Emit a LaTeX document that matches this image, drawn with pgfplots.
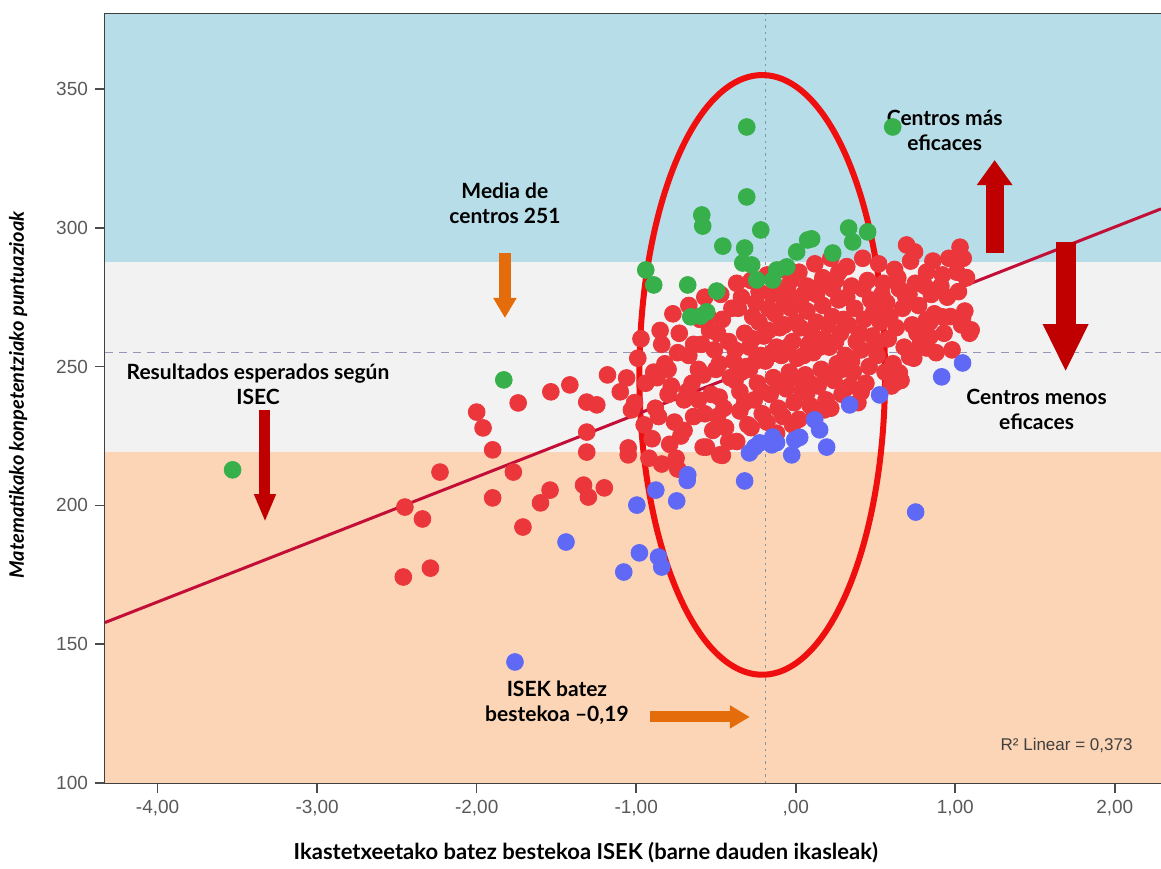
\documentclass[border=0pt]{standalone}
\usepackage{pgfplots}
\pgfplotsset{compat=1.18}
\usetikzlibrary{arrows.meta}
\usepackage{fontspec}
\setmainfont{Lato}
\newfontfamily\tickfont{Liberation Sans}
\definecolor{bandblue}{RGB}{183,221,232}
\definecolor{bandgray}{RGB}{242,242,242}
\definecolor{bandorange}{RGB}{251,213,181}
\definecolor{ptred}{RGB}{235,55,60}
\definecolor{ptgreen}{RGB}{55,175,75}
\definecolor{ptblue}{RGB}{95,105,245}
\definecolor{regline}{RGB}{195,15,55}
\definecolor{ellred}{RGB}{240,15,15}
\definecolor{arrorange}{RGB}{228,108,10}
\definecolor{arrred}{RGB}{192,0,0}
\begin{document}
\begin{tikzpicture}
\begin{axis}[
  scale only axis, width=528pt, height=384.5pt,
  xmin=-4.33, xmax=2.29, ymin=100, ymax=377,
  clip=false,
  axis line style={draw=black!75, line width=0.8pt},
  xtick={-4,-3,-2,-1,0,1,2},
  xticklabels={{-4,00},{-3,00},{-2,00},{-1,00},{,00},{1,00},{2,00}},
  ytick={100,150,200,250,300,350},
  yticklabels={100,150,200,250,300,350},
  tick pos=left, tick align=outside, major tick length=5pt,
  tick style={black!70, line width=0.8pt},
  ticklabel style={font=\tickfont\fontsize{9.5}{11}\selectfont, text=black!65},
]
% bands
\fill[bandblue] (axis cs:-4.33,287.7) rectangle (axis cs:2.29,377);
\fill[bandgray] (axis cs:-4.33,219.2) rectangle (axis cs:2.29,287.7);
\fill[bandorange] (axis cs:-4.33,100) rectangle (axis cs:2.29,219.2);
% reference lines
\draw[color={rgb,255:red,150;green,150;blue,185}, line width=0.7pt, dash pattern=on 4pt off 3pt] (axis cs:-4.33,255) -- (axis cs:2.29,255);
\draw[color={rgb,255:red,130;green,150;blue,170}, line width=0.8pt, dash pattern=on 1.2pt off 2pt] (axis cs:-0.19,100) -- (axis cs:-0.19,377);
% ellipse
\draw[ellred, line width=3pt] (axis cs:-0.21,247) ellipse [x radius=0.77, y radius=108];
% red points
\addplot[only marks, mark=*, mark size=4.2pt, color=ptred, mark options={fill=ptred, draw=ptred}] coordinates {
(-2.0,233.6)(-1.96,227.9)(-1.90,220)(-2.23,212)(-2.45,199.4)(-2.34,195.1)(-2.29,177.4)(-2.46,174.2)
(-1.90,202.7)(-1.77,212)(-1.74,236.9)(-1.71,192.2)(-1.535,240.9)(-1.416,243.4)(-1.54,205.5)(-1.60,200.9)
(-1.31,237.2)(-1.247,236.2)(-1.31,226.4)(-1.31,219.2)(-1.33,207.3)(-1.30,203)(-1.20,206.3)(-1.18,247)
(-1.10,240.9)(-1.06,245.9)(-1.05,220.7)(-1.05,218.2)(-1.03,234.4)(-0.84,214.9)(-0.74,213.1)(-0.476,218.2)(-0.92,217)
(-0.99,253)(-0.94,244)(-0.95,229)(-1.01,237)(-0.90,224)(-0.97,260)(-0.89,248)
(-0.85,263)(-0.82,251)(-0.86,232)(-0.80,240)(-0.88,235)(-0.79,222)(-0.84,258)(-0.87,246)
(-0.77,269)(-0.74,255)(-0.72,225)(-0.78,243)(-0.70,238)(-0.80,249)(-0.73,262)(-0.76,230)(-0.75,217)
(-0.67,272)(-0.64,258)(-0.61,249)(-0.68,241)(-0.64,232)(-0.70,227)(-0.60,267)(-0.65,244)(-0.67,254)(-0.58,221)(-0.61,238)
(-0.57,275)(-0.54,263)(-0.51,256)(-0.58,247)(-0.53,240)(-0.57,233)(-0.52,227)(-0.55,268)(-0.50,249)(-0.59,258)(-0.49,232)(-0.56,221)
(-0.47,276)(-0.46,267)(-0.42,259)(-0.48,251)(-0.41,246)(-0.48,239)(-0.45,235)(-0.44,228)(-0.40,271)(-0.39,252)(-0.49,262)(-0.42,223)(-0.46,218)
(-0.37,280)(-0.36,271)(-0.32,262)(-0.38,256)(-0.31,250)(-0.38,245)(-0.35,241)(-0.35,234)(-0.30,229)(-0.37,223)(-0.34,275)(-0.29,257)(-0.34,248)(-0.32,237)
(-0.28,281)(-0.25,273)(-0.23,266)(-0.27,260)(-0.22,254)(-0.29,249)(-0.24,244)(-0.26,238)(-0.21,233)(-0.28,228)(-0.23,277)(-0.2,261)(-0.25,252)(-0.21,241)(-0.27,268)
(-0.18,283)(-0.15,276)(-0.13,269)(-0.17,263)(-0.12,257)(-0.19,252)(-0.14,246)(-0.16,240)(-0.11,235)(-0.18,230)(-0.13,279)(-0.1,264)(-0.15,255)(-0.11,244)(-0.17,271)(-0.12,226)
(-0.08,285)(-0.05,277)(-0.03,271)(-0.07,265)(-0.02,259)(-0.09,254)(-0.04,248)(-0.06,242)(-0.01,237)(-0.08,232)(-0.03,281)(0,266)(-0.05,257)(-0.01,246)(-0.07,273)(-0.02,229)
(0.02,284)(0.05,276)(0.07,270)(0.03,264)(0.08,258)(0.01,253)(0.06,247)(0.04,241)(0.09,236)(0.02,231)(0.07,279)(0.1,262)(0.05,254)(0.09,244)(0.03,273)
(0.12,287)(0.15,279)(0.17,272)(0.13,266)(0.18,260)(0.11,255)(0.16,249)(0.14,243)(0.19,238)(0.12,233)(0.17,282)(0.2,265)(0.15,257)(0.19,247)(0.13,276)
(0.22,289)(0.25,281)(0.27,274)(0.23,268)(0.28,262)(0.21,257)(0.26,251)(0.24,245)(0.29,240)(0.22,235)(0.27,284)(0.3,267)(0.25,259)(0.29,249)(0.23,278)
(0.32,286)(0.35,279)(0.37,271)(0.33,265)(0.38,259)(0.31,254)(0.36,248)(0.34,243)(0.39,237)(0.32,275)(0.4,262)(0.35,252)
(0.42,289)(0.45,281)(0.47,274)(0.43,267)(0.48,261)(0.41,256)(0.46,250)(0.44,244)(0.49,270)(0.42,278)(0.5,258)
(0.52,287)(0.55,280)(0.57,273)(0.53,266)(0.58,260)(0.51,254)(0.56,248)(0.54,276)(0.59,268)(0.6,243)
(0.62,285)(0.65,278)(0.67,271)(0.63,264)(0.68,257)(0.61,251)(0.66,245)(0.69,275)(0.64,282)
(0.72,288)(0.75,280)(0.77,272)(0.73,265)(0.78,258)(0.71,276)(0.76,262)(0.74,253)
(0.82,284)(0.85,276)(0.87,269)(0.83,261)(0.88,255)(0.81,279)(0.86,288)(0.84,266)
(0.92,283)(0.95,275)(0.97,268)(0.93,262)(0.98,256)(0.91,279)(0.96,289)
(1.03,293)(1.05,289)(1.07,282)(1.02,277)(1.06,270)(1.04,265)(1.09,262)(1.01,284)
(0.695,293.8)(0.745,291.3)(1.07,282)(1.046,267.5)(1.10,263.2)(0.92,267.9)(0.82,266.8)(0.84,260.7)
(0.82,256.7)(0.65,247.7)(0.62,244)(0.41,240.8)(0.07,240.5)(0.18,234.4)(0.714,253.5)
};
% green points
\addplot[only marks, mark=*, mark size=4.2pt, color=ptgreen, mark options={fill=ptgreen, draw=ptgreen}] coordinates {
(-0.307,336.3)(0.608,336.3)(-0.307,311.1)(-0.589,304.6)(-0.583,300.6)(-0.219,299.2)(-0.457,293.4)
(-0.32,292.7)(0.1,296)(0.332,299.9)(0.357,294.9)(0.451,298.5)(0.006,291.3)(0.232,290.9)(-0.94,284.8)
(-0.89,279.4)(-0.677,279.4)(-0.495,277.2)(-0.658,267.9)(-0.558,269.7)(-0.595,268.2)(-0.332,287.3)
(-0.276,286.6)(-0.244,281.2)(-0.144,281.2)(-0.119,284.8)(-0.056,285.9)(0.075,295.6)(-1.83,245.2)(-3.53,212.8)
};
% blue points
\addplot[only marks, mark=*, mark size=4.2pt, color=ptblue, mark options={fill=ptblue, draw=ptblue}] coordinates {
(-1.76,143.6)(-1.44,186.8)(-1.078,176)(-0.98,182.9)(-0.86,181.4)(-0.84,177.8)(-0.996,200.1)(-0.877,205.5)
(-0.746,201.6)(-0.677,211)(-0.68,209)(-0.32,208.8)(-0.29,218.9)(-0.257,221)(-0.226,222.5)(-0.15,221.8)
(-0.144,224.6)(-0.12,222.6)(-0.006,223.6)(-0.025,218.2)(0.025,224.5)(1.046,251.3)(0.915,246.3)(0.526,239.8)
(0.338,236.2)(0.119,230.8)(0.15,227.2)(0.194,221)(0.752,197.6)
};
% regression line
\addplot[regline, line width=1.5pt] coordinates {(-4.33,157.8)(2.29,306.8)};
% arrows
\draw[arrorange, line width=6pt, -{Triangle[width=11pt, length=10pt]}] (axis cs:-1.823,290.9) -- (axis cs:-1.823,267.5);
\draw[arrorange, line width=5.5pt, -{Triangle[width=11pt, length=10pt]}] (axis cs:-0.915,123.8) -- (axis cs:-0.288,123.8);
\draw[arrred, line width=5.5pt, -{Triangle[width=10pt, length=14pt]}] (axis cs:-3.327,234.4) -- (axis cs:-3.327,194);
\draw[arrred, line width=9pt, -{Triangle[width=17pt, length=12.5pt]}] (axis cs:1.247,290.9) -- (axis cs:1.247,324.4);
\draw[arrred, line width=10pt, -{Triangle[width=21pt, length=24pt]}] (axis cs:1.692,294.9) -- (axis cs:1.692,248);
% annotation text
\node[font=\bfseries\fontsize{10.5}{12.5}\selectfont, align=center] at (axis cs:-1.823,308.9) {Media de\\centros 251};
\node[font=\bfseries\fontsize{10.5}{12.5}\selectfont, align=center] at (axis cs:-3.371,243.7) {Resultados esperados según\\ISEC};
\node[font=\bfseries\fontsize{10.5}{12.5}\selectfont, align=center] at (axis cs:0.934,334.9) {Centros más\\eficaces};
\node[font=\bfseries\fontsize{10.5}{12.5}\selectfont, align=center] at (axis cs:1.510,234.4) {Centros menos\\eficaces};
\node[font=\bfseries\fontsize{10.5}{12.5}\selectfont, align=center] at (axis cs:-1.497,128.8) {ISEK batez\\bestekoa –0,19};
\node[font=\tickfont\fontsize{8.5}{10}\selectfont, text=black!75] at (axis cs:1.698,113.7) {R² Linear = 0,373};
% axis titles
\node[font=\bfseries\fontsize{11}{13}\selectfont] at (axis cs:-1.316,74.8) {Ikastetxeetako batez bestekoa ISEK (barne dauden ikasleak)};
\node[font=\bfseries\itshape\fontsize{10}{12}\selectfont, rotate=90] at (axis cs:-4.875,239.8) {Matematikako konpetentziako puntuazioak};
\end{axis}
\pgfresetboundingbox
\useasboundingbox (-52.5pt,-42.5pt) rectangle (528pt,391.5pt);
\end{tikzpicture}
\end{document}
